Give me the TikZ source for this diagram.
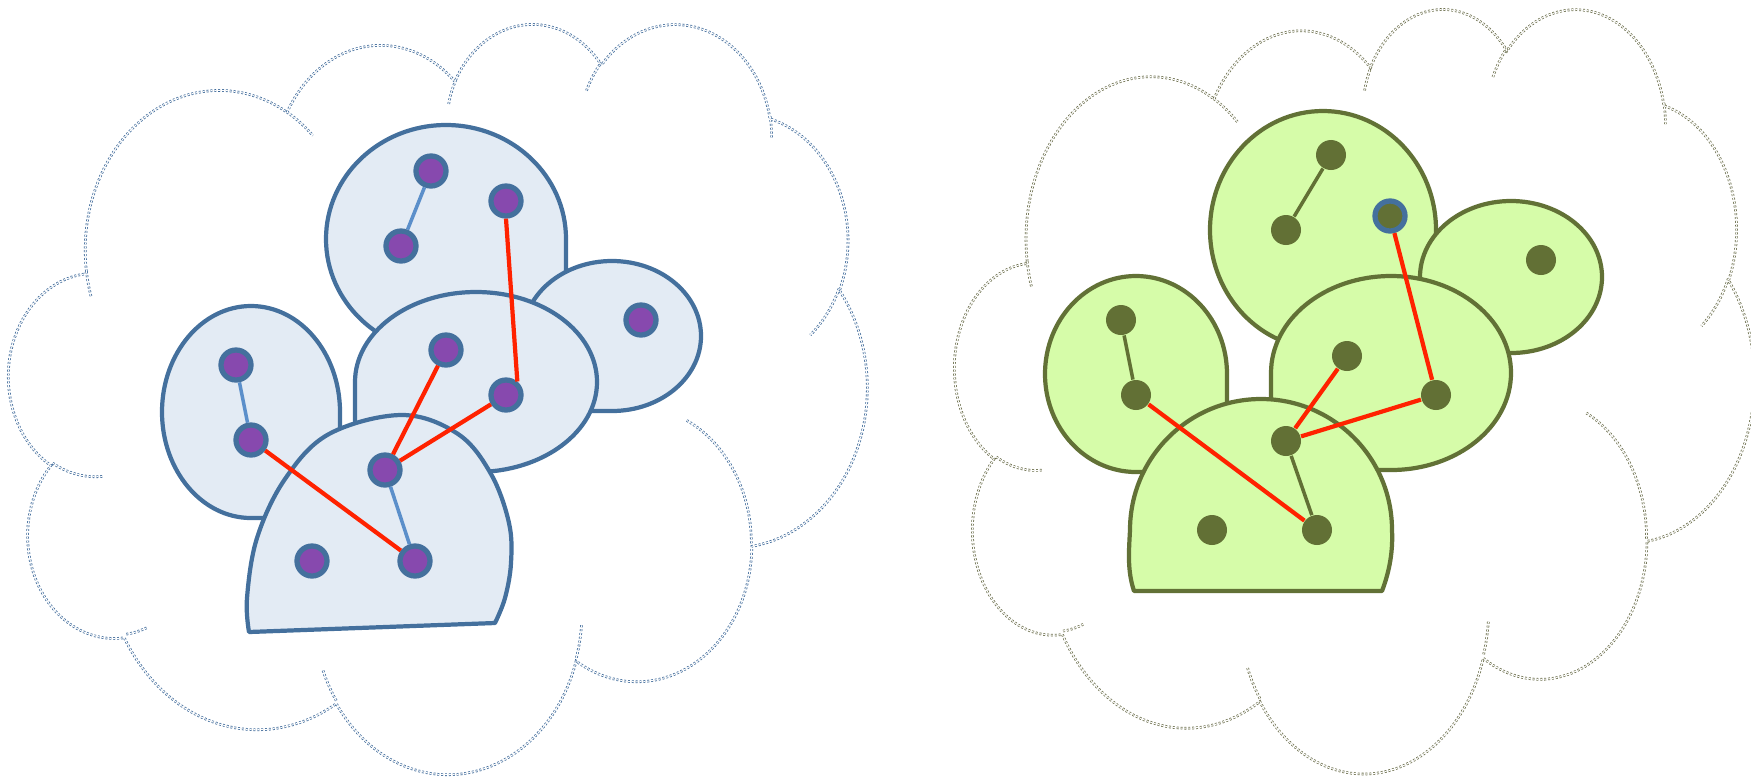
\documentclass[tikz,border=0pt]{standalone}
\definecolor{bstroke}{HTML}{44709D}
\definecolor{bfill}{HTML}{E3EBF4}
\definecolor{purp}{HTML}{8749AE}
\definecolor{lblue}{HTML}{5B8FCA}
\definecolor{redl}{HTML}{FF2200}
\definecolor{gstroke}{HTML}{627136}
\definecolor{gnode}{HTML}{627035}
\definecolor{gfill}{HTML}{D6FCA9}
\definecolor{cloudb}{HTML}{3F6A9A}
\definecolor{cloudg}{HTML}{6B6E4C}
\newcommand\cldarc[5]{%
  \pgfmathsetmacro\cldtmpa{atan2((#2)*sin(#4),(#3)*cos(#4))}%
  \pgfmathsetmacro\cldtmpb{atan2((#2)*sin((#4)+(#5)),(#3)*cos((#4)+(#5)))}%
  \pgfmathsetmacro\cldtmpd{\cldtmpb-\cldtmpa}%
  \pgfmathsetmacro\cldtmpd{\cldtmpd-360*round((\cldtmpd-(#5))/360)}%
  \expandafter\xdef\csname cld#1\endcsname{arc[start angle=\cldtmpa, delta angle=\cldtmpd, x radius=#2, y radius=#3]}%
}
\cldarc{a}{67.53}{91.90}{-190.4875}{123.7805}
\cldarc{b}{53.33}{72.67}{-144.1024}{89.9452}
\cldarc{c}{43.65}{59.45}{-145.8079}{99.7230}
\cldarc{d}{48.57}{65.95}{-130.9861}{117.2417}
\cldarc{e}{53.33}{72.73}{-78.7089}{109.0269}
\cldarc{f}{67.75}{92.20}{-46.2673}{130.2690}
\cldarc{g}{57.85}{78.67}{0.6250}{114.0333}
\cldarc{h}{67.52}{92.15}{22.4516}{115.1726}
\cldarc{i}{77.20}{105.43}{66.2426}{75.7110}
\cldarc{j}{43.60}{59.18}{-274.9421}{146.7356}
\cldarc{k}{43.45}{59.45}{-246.8285}{152.5189}
\cldarc{ia}{43.45}{59.45}{86.7420}{26.4295}
\cldarc{ib}{43.60}{59.18}{73.6105}{11.4475}
\cldarc{ic}{67.52}{92.15}{137.6242}{14.0811}
\cldarc{id}{67.52}{92.15}{6.4533}{15.9984}
\cldarc{ie}{57.85}{78.67}{-70.2924}{70.9174}
\cldarc{if}{53.33}{72.73}{30.3180}{27.7515}
\cldarc{ig}{48.57}{65.95}{-13.7443}{14.8589}
\cldarc{ih}{48.57}{65.95}{-149.1815}{18.1954}
\cldarc{ii}{43.65}{59.45}{-163.4943}{17.6864}
\cldarc{ij}{67.53}{91.90}{-66.7070}{12.3194}
\cldarc{ik}{67.53}{91.90}{157.6544}{11.8582}
\newcommand\cloudpath{(39.00,143.70) \clda \cldb \cldc \cldd \clde \cldf \cldg \cldh \cldi \cldj \cldk -- cycle
  (46.93,261.77) \cldia (69.28,348.99) \cldib (164.78,390.90) \cldic (288.27,347.51) \cldid
  (341.29,229.54) \cldie (417.98,153.54) \cldif (383.24,54.26) \cldig (290.78,39.52) \cldih
  (221.41,47.20) \cldii (140.00,51.92) \cldij (41.27,157.89) \cldik}
\tikzset{
  lshape/.style={draw=bstroke, fill=bfill, line width=1.2pt, line join=round},
  rshape/.style={draw=gstroke, fill=gfill, line width=1.2pt, line join=round},
  lnode/.style={circle, fill=purp, draw=bstroke, line width=1.5pt, minimum size=0.30cm, inner sep=0pt},
  rnode/.style={circle, fill=gnode, minimum size=0.30cm, inner sep=0pt},
  rnodeb/.style={circle, fill=gnode, draw=bstroke, line width=1.5pt, minimum size=0.30cm, inner sep=0pt},
  lconn/.style={draw=lblue, line width=1.0pt},
  rconn/.style={draw=gnode, line width=1.0pt},
  redconn/.style={draw=redl, line width=1.2pt},
  cloudline/.style={line width=0.22pt, double=white, double distance=0.3pt, dash pattern=on 0.55pt off 0.55pt},
}
\begin{document}
\begin{tikzpicture}[x=0.01cm, y=-0.01cm]
\useasboundingbox (0,0) rectangle (1751,778);
% clouds
\begin{scope}[shift={(9,22)}, xscale=1.986, yscale=1.736]
  \draw[cloudline, draw=cloudb] \cloudpath;
\end{scope}
\begin{scope}[shift={(955,7)}, xscale=1.850, yscale=1.769]
  \draw[cloudline, draw=cloudg] \cloudpath;
\end{scope}
% left shapes
\draw[lshape] (566,353) -- (566,239) arc[start angle=0, delta angle=-270, x radius=120, y radius=114] -- cycle;
\draw[lshape] (523,411) -- (612,411) arc[start angle=90, delta angle=-270, x radius=89, y radius=75] -- cycle;
\draw[lshape] (355,472) -- (355,382) arc[start angle=180, delta angle=270, x radius=121, y radius=90] -- cycle;
\draw[lshape] (340,518) -- (340,412) arc[start angle=0, delta angle=-270, x radius=89, y radius=106] -- cycle;
\draw[lshape] plot[smooth, tension=0.6] coordinates {(249,632) (247,598) (257,538) (285,479) (329,434) (402,415) (458,434) (491,474) (509,523) (511,563) (505,598) (495,623)} -- cycle;
% right shapes
\draw[rshape] (1436,349) -- (1436,230) arc[start angle=0, delta angle=-270, x radius=113, y radius=119] -- cycle;
\draw[rshape] (1420,353) -- (1511,353) arc[start angle=90, delta angle=-270, x radius=91, y radius=76] -- cycle;
\draw[rshape] (1271,470) -- (1271,373) arc[start angle=180, delta angle=270, x radius=120, y radius=97] -- cycle;
\draw[rshape] (1227,472) -- (1227,374) arc[start angle=0, delta angle=-270, x radius=91, y radius=98] -- cycle;
\draw[rshape] (1134,591) .. controls (1127,570) and (1129,550) .. (1130,530) arc[start angle=180, end angle=360, x radius=131, y radius=131] .. controls (1393,550) and (1390,570) .. (1382,591) -- cycle;
% left nodes
\node[lnode] (n1) at (431,171) {};
\node[lnode] (n2) at (401,246) {};
\node[lnode] (n3) at (506,201) {};
\node[lnode] (n4) at (641,320) {};
\node[lnode] (n5) at (236,365) {};
\node[lnode] (n6) at (251,440) {};
\node[lnode] (n7) at (446,350) {};
\node[lnode] (n8) at (506,395) {};
\node[lnode] (n9) at (385,470) {};
\node[lnode] (n10) at (312,561) {};
\node[lnode] (n11) at (415,561) {};
\draw[lconn] (n1) -- (n2);
\draw[lconn] (n5) -- (n6);
\draw[lconn] (n9) -- (n11);
\draw[redconn] (n3.south) -- (n8.50);
\draw[redconn] (n7) -- (n9);
\draw[redconn] (n8) -- (n9);
\draw[redconn] (n6) -- (n11);
% right nodes
\node[rnode] (m1) at (1331,155) {};
\node[rnode] (m2) at (1286,230) {};
\node[rnodeb] (m3) at (1390,216) {};
\node[rnode] (m4) at (1541,260) {};
\node[rnode] (m5) at (1121,320) {};
\node[rnode] (m6) at (1136,395) {};
\node[rnode] (m7) at (1347,356) {};
\node[rnode] (m8) at (1436,395) {};
\node[rnode] (m9) at (1286,441) {};
\node[rnode] (m10) at (1212,530) {};
\node[rnode] (m11) at (1317,530) {};
\draw[rconn] (m1) -- (m2);
\draw[rconn] (m5) -- (m6);
\draw[rconn] (m9) -- (m11);
\draw[redconn] (m3) -- (m8);
\draw[redconn] (m7) -- (m9);
\draw[redconn] (m8) -- (m9);
\draw[redconn] (m6) -- (m11);
\end{tikzpicture}
\end{document}
